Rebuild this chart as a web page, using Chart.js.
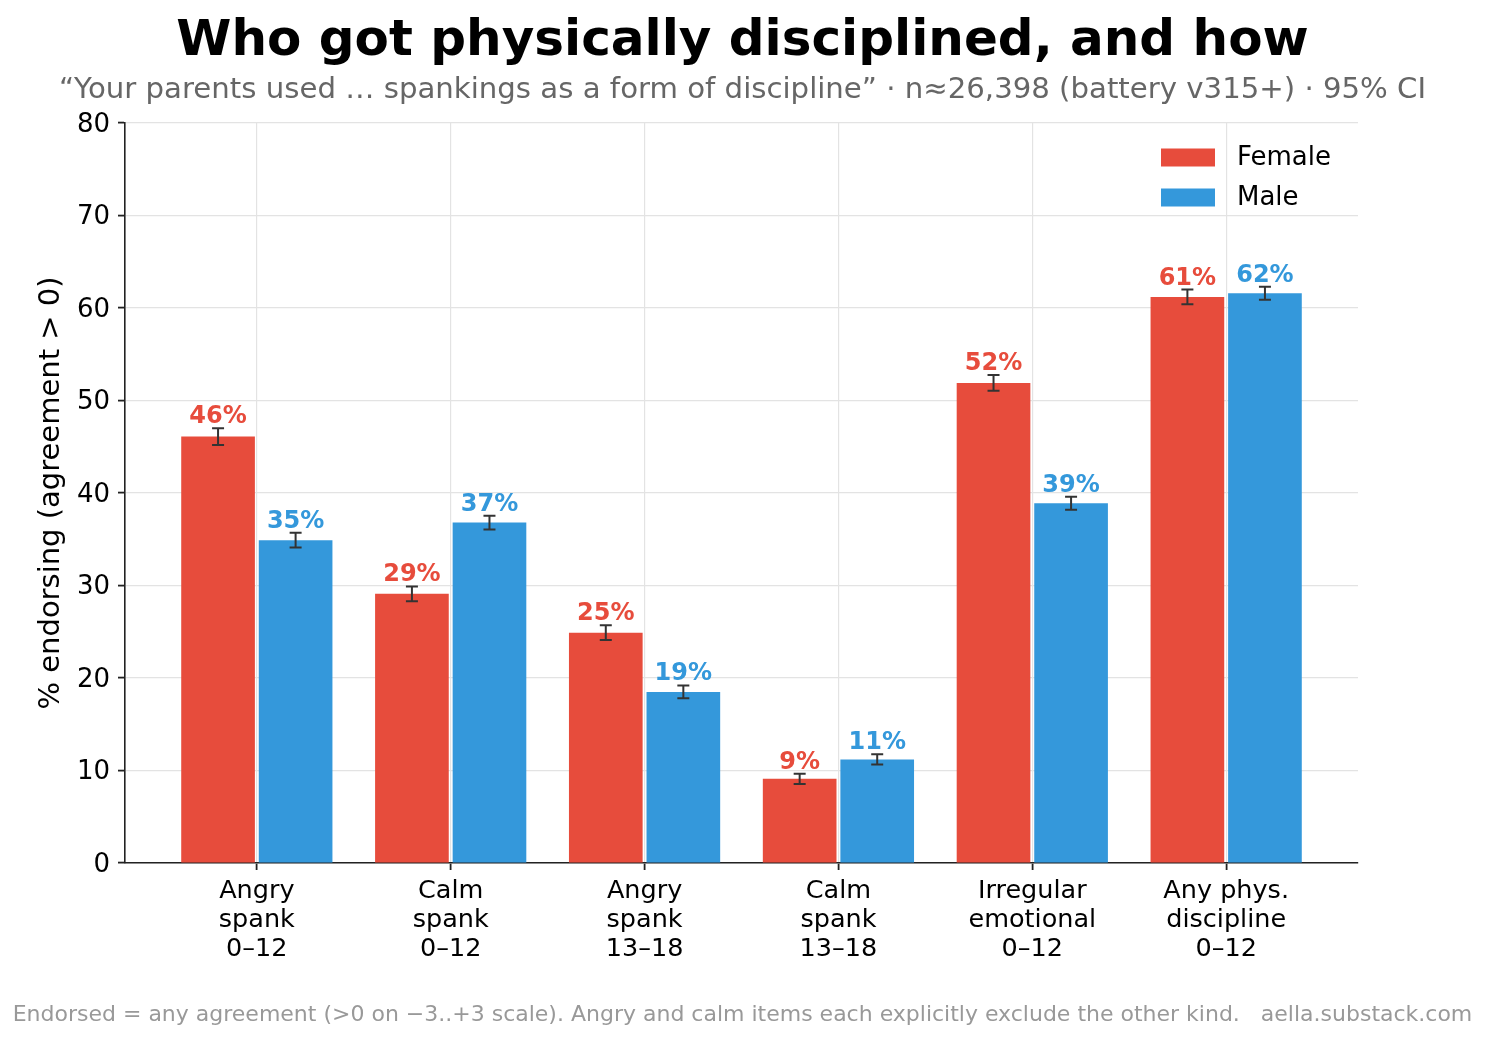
<!DOCTYPE html>
<html>
<head>
<meta charset="utf-8">
<script src="https://cdn.jsdelivr.net/npm/chart.js@4.4.1/dist/chart.umd.min.js"></script>
<style>
  html, body { margin: 0; padding: 0; background: #ffffff; }
  canvas { display: block; }
</style>
</head>
<body>
<canvas id="c" width="1485" height="1039"></canvas>
<script>
const categories = [
  ["Angry", "spank", "0\u201312"],
  ["Calm", "spank", "0\u201312"],
  ["Angry", "spank", "13\u201318"],
  ["Calm", "spank", "13\u201318"],
  ["Irregular", "emotional", "0\u201312"],
  ["Any phys.", "discipline", "0\u201312"]
];
const femaleValues = [46.1, 29.1, 24.9, 9.1, 51.9, 61.2];
const maleValues   = [34.9, 36.8, 18.5, 11.2, 38.9, 61.6];
const femaleErr    = [0.9, 0.8, 0.8, 0.55, 0.85, 0.8];
const maleErr      = [0.8, 0.75, 0.7, 0.55, 0.7, 0.7];
const yTicks = [0, 10, 20, 30, 40, 50, 60, 70, 80];

const titleText = "Who got physically disciplined, and how";
const subtitleText = "\u201cYour parents used \u2026 spankings as a form of discipline\u201d \u00b7 n\u224826,398 (battery v315+) \u00b7 95% CI";
const footerText = "Endorsed = any agreement (>0 on \u22123..+3 scale). Angry and calm items each explicitly exclude the other kind.   aella.substack.com";

const FEMALE = "#e74c3c";
const MALE = "#3498db";
const FONT = "'DejaVu Sans', 'Liberation Sans', sans-serif";

const errs = [femaleErr, maleErr];
const vals = [femaleValues, maleValues];

const overlayPlugin = {
  id: 'overlay',
  afterDatasetsDraw(chart) {
    const ctx = chart.ctx;
    const y = chart.scales.y;
    ctx.save();
    for (let d = 0; d < 2; d++) {
      const meta = chart.getDatasetMeta(d);
      const color = d === 0 ? FEMALE : MALE;
      meta.data.forEach((bar, i) => {
        const v = vals[d][i];
        const e = errs[d][i];
        const x = bar.x;
        const yt = y.getPixelForValue(v + e);
        const yb = y.getPixelForValue(v - e);
        ctx.strokeStyle = "#333333";
        ctx.lineWidth = 2;
        ctx.beginPath();
        ctx.moveTo(x, yt); ctx.lineTo(x, yb);
        ctx.moveTo(x - 6, yt); ctx.lineTo(x + 6, yt);
        ctx.moveTo(x - 6, yb); ctx.lineTo(x + 6, yb);
        ctx.stroke();
        ctx.fillStyle = color;
        ctx.font = "bold 24px " + FONT;
        ctx.textAlign = "center";
        ctx.textBaseline = "alphabetic";
        ctx.fillText(Math.round(v) + "%", x, yt - 5);
      });
    }
    ctx.restore();
  },
  afterDraw(chart) {
    const ctx = chart.ctx;
    ctx.save();
    ctx.textAlign = "center";
    ctx.textBaseline = "alphabetic";
    ctx.fillStyle = "#000000";
    ctx.font = "bold 50px " + FONT;
    ctx.fillText(titleText, 742.5, 55);
    ctx.fillStyle = "#666666";
    ctx.font = "29.2px " + FONT;
    ctx.fillText(subtitleText, 742.5, 98);
    ctx.fillStyle = "#999999";
    ctx.font = "22px " + FONT;
    ctx.fillText(footerText, 742.5, 1021);
    // legend
    const items = [["Female", FEMALE], ["Male", MALE]];
    ctx.textAlign = "left";
    ctx.textBaseline = "middle";
    ctx.font = "26px " + FONT;
    items.forEach((it, k) => {
      const cy = 157.5 + k * 40;
      ctx.fillStyle = it[1];
      ctx.fillRect(1161, cy - 9, 54, 18);
      ctx.fillStyle = "#000000";
      ctx.fillText(it[0], 1237, cy + 1);
    });
    ctx.restore();
  }
};

new Chart(document.getElementById('c'), {
  type: 'bar',
  data: {
    datasets: [
      { label: 'Female', data: femaleValues.map((v, i) => ({ x: i, y: v })), backgroundColor: FEMALE, borderWidth: 0 },
      { label: 'Male', data: maleValues.map((v, i) => ({ x: i, y: v })), backgroundColor: MALE, borderWidth: 0 }
    ]
  },
  options: {
    responsive: false,
    animation: false,
    devicePixelRatio: 1,
    categoryPercentage: 0.8,
    barPercentage: 0.95,
    layout: { padding: { top: 123, right: 127, left: 0, bottom: 0 } },
    plugins: {
      legend: { display: false },
      title: { display: false },
      tooltip: { enabled: false }
    },
    scales: {
      x: {
        type: 'linear',
        min: -0.68,
        max: 5.68,
        offset: false,
        afterBuildTicks(scale) {
          scale.ticks = categories.map((c, i) => ({ value: i }));
        },
        afterFit(scale) { scale.height = 176; },
        grid: { offset: false, color: "#e3e3e3", lineWidth: 1.2, tickColor: "#222222", tickLength: 7, tickWidth: 1.8 },
        border: { color: "#222222", width: 1.6 },
        ticks: {
          autoSkip: false,
          maxRotation: 0,
          padding: 7,
          color: "#000000",
          font: { family: FONT, size: 25.5, lineHeight: 1.14 },
          callback: (v) => categories[v] || ""
        }
      },
      y: {
        min: 0,
        max: 80,
        afterBuildTicks(scale) {
          scale.ticks = yTicks.map(v => ({ value: v }));
        },
        afterFit(scale) { scale.width = 125; },
        grid: { color: "#e3e3e3", lineWidth: 1.2, tickColor: "#222222", tickLength: 7, tickWidth: 1.8 },
        border: { color: "#222222", width: 1.6 },
        ticks: {
          padding: 8,
          labelOffset: 2,
          color: "#000000",
          font: { family: FONT, size: 26 }
        },
        title: {
          display: true,
          text: "% endorsing (agreement > 0)",
          color: "#000000",
          font: { family: FONT, size: 29 },
          padding: { top: 34, bottom: 0 }
        }
      }
    }
  },
  plugins: [overlayPlugin]
});
</script>
</body>
</html>
